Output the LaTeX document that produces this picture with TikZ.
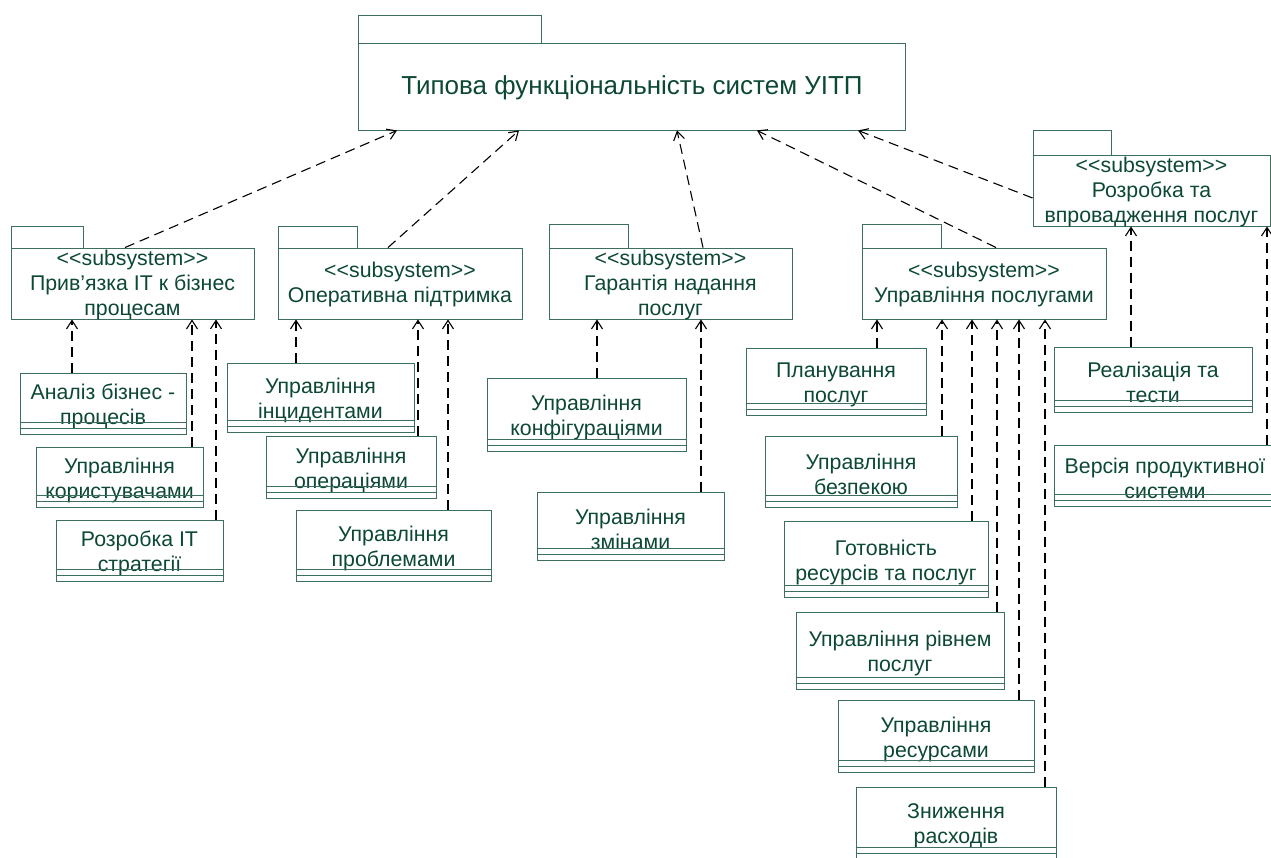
\documentclass[tikz,border=0pt]{standalone}
\usepackage{fontspec}
\setmainfont{Liberation Sans}
\usetikzlibrary{arrows.meta}
\definecolor{txt}{RGB}{12,72,52}
\definecolor{brd}{RGB}{60,112,92}
\tikzset{
  box/.style={draw=brd, line width=0.9pt, inner sep=0pt},
  lbl/.style={text=txt, align=center, inner sep=0pt, font=\fontsize{21.3}{25}\selectfont},
  tabbox/.style={draw=brd, line width=0.9pt},
  dep/.style={draw=black, line width=1.1pt, dash pattern=on 10pt off 6pt, -{Straight Barb[length=8.5pt,width=11pt,line width=1.1pt]}}
}
\newcommand{\stereo}{<{}<subsystem>{}>}
\newcommand{\clsbox}[6]{%
  \node[box, minimum width={(#4-#2)*1pt}, minimum height={(#5-#3)*1pt}] (#1) at ({(#2+#4)/2},{(#3+#5)/2}) {};
  \node[lbl] (#1t) at ({(#2+#4)/2},{(#3+#5)/2+3}) {#6};
  \draw[brd, line width=0.9pt] ([yshift=6pt]#1.south west) -- ([yshift=6pt]#1.south east)
    ([yshift=12pt]#1.south west) -- ([yshift=12pt]#1.south east);
}
\newcommand{\pkgbox}[8]{%
  \draw[tabbox] (#2,#3) rectangle (#4,#5);
  \node[box, minimum width={(#6-#2)*1pt}, minimum height={(#7-#5)*1pt}] (#1) at ({(#2+#6)/2},{(#5+#7)/2}) {};
  \node[lbl] (#1t) at ({(#2+#6)/2},{(#5+#7)/2+1}) {#8};
}
\begin{document}
\begin{tikzpicture}[x=1pt,y=-1pt]
\useasboundingbox (0,0) rectangle (1271,857);

% top package
\draw[tabbox] (358,15) rectangle (541,43);
\node[box, minimum width=547pt, minimum height=87pt] (top) at (631.5,86.5) {};
\node[lbl, font=\fontsize{26}{30}\selectfont] (topt) at (632,88) {Типова функціональність систем УІТП};

% subsystems
\pkgbox{s1}{11}{226}{83}{248}{254}{319}{\stereo\\Прив’язка ІТ к бізнес\\процесам}
\pkgbox{s2}{278}{226}{357}{248}{522}{319}{\stereo\\Оперативна підтримка}
\pkgbox{s3}{549}{224}{628}{248}{792}{319}{\stereo\\Гарантія надання\\послуг}
\pkgbox{s4}{862}{224}{941}{248}{1106}{319}{\stereo\\Управління послугами}
\pkgbox{s5}{1033}{130}{1111}{155}{1270}{226}{\stereo\\Розробка та\\впровадження послуг}

% classes
\clsbox{c11}{20}{373}{186}{434}{Аналіз бізнес -\\процесів}
\clsbox{c12}{36}{447}{203}{507}{Управління\\користувачами}
\clsbox{c13}{56}{520}{223}{581}{Розробка ІТ\\стратегії}
\clsbox{c21}{227}{363}{414}{432}{Управління\\інцидентами}
\clsbox{c22}{266}{436}{436}{498}{Управління\\операціями}
\clsbox{c23}{296}{510}{491}{581}{Управління\\проблемами}
\clsbox{c31}{487}{378}{686}{451}{Управління\\конфігураціями}
\clsbox{c32}{537}{492}{724}{560}{Управління\\змінами}
\clsbox{c41}{746}{348}{926}{415}{Планування\\послуг}
\clsbox{c42}{765}{436}{957}{507}{Управління\\безпекою}
\clsbox{c43}{784}{521}{988}{597}{Готовність\\ресурсів та послуг}
\clsbox{c44}{796}{612}{1004}{689}{Управління рівнем\\послуг}
\clsbox{c45}{838}{700}{1034}{772}{Управління\\ресурсами}
\clsbox{c46}{856}{787}{1056}{859}{Зниження\\расходів}
\clsbox{c51}{1054}{347}{1252}{412}{Реалізація та\\тести}
\clsbox{c52}{1054}{445}{1276}{506}{Версія продуктивної\\системи}

% dependencies to top
\draw[dep] (s1.north -| 125,0) -- (top.south -| 397,0);
\draw[dep] (s2.north -| 388,0) -- (top.south -| 519,0);
\draw[dep] (s3.north -| 703,0) -- (top.south -| 677,0);
\draw[dep] (s4.north -| 996,0) -- (top.south -| 757,0);
\draw[dep] (s5.west |- 0,198) -- (top.south -| 858,0);

% dependencies to subsystems
\draw[dep] (c11.north -| 72,0) -- (s1.south -| 72,0);
\draw[dep] (c12.north -| 192,0) -- (s1.south -| 192,0);
\draw[dep] (c13.north -| 216,0) -- (s1.south -| 216,0);
\draw[dep] (c21.north -| 296,0) -- (s2.south -| 296,0);
\draw[dep] (c22.north -| 418,0) -- (s2.south -| 418,0);
\draw[dep] (c23.north -| 448,0) -- (s2.south -| 448,0);
\draw[dep] (c31.north -| 597,0) -- (s3.south -| 597,0);
\draw[dep] (c32.north -| 701,0) -- (s3.south -| 701,0);
\draw[dep] (c41.north -| 877,0) -- (s4.south -| 877,0);
\draw[dep] (c42.north -| 942,0) -- (s4.south -| 942,0);
\draw[dep] (c43.north -| 972,0) -- (s4.south -| 972,0);
\draw[dep] (c44.north -| 997,0) -- (s4.south -| 997,0);
\draw[dep] (c45.north -| 1019,0) -- (s4.south -| 1019,0);
\draw[dep] (c46.north -| 1045,0) -- (s4.south -| 1045,0);
\draw[dep] (c51.north -| 1131,0) -- (s5.south -| 1131,0);
\draw[dep] (c52.north -| 1267,0) -- (s5.south -| 1267,0);
\end{tikzpicture}
\end{document}
